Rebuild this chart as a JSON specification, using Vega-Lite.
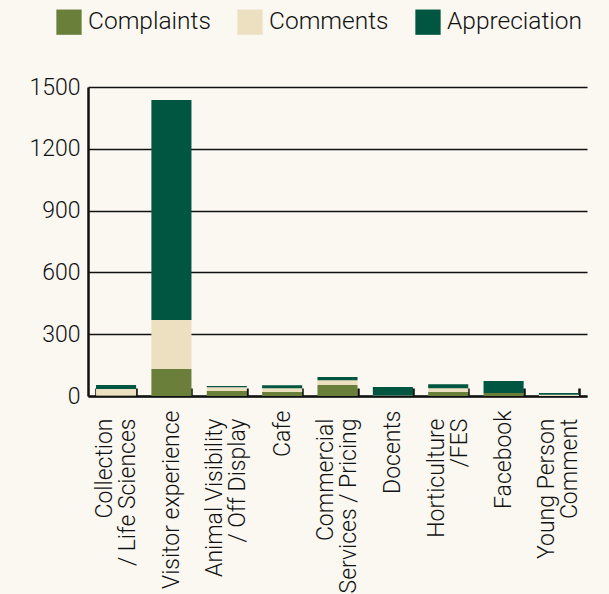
{
  "$schema": "https://vega.github.io/schema/vega-lite/v6.json",
  "width": 499,
  "height": 309,
  "autosize": {"type": "none"},
  "padding": {"left": 88, "top": 87, "right": 22, "bottom": 198},
  "background": "#faf8f1",
  "config": {
    "view": {"stroke": null},
    "font": "Roboto",
    "axis": {"labelFont": "Roboto", "labelFontWeight": 300, "labelColor": "#111111"},
    "legend": {"labelFont": "Roboto", "labelFontWeight": 300}
  },
  "data": {
    "values": [
      {"cat": "Collection|/ Life Sciences", "type": "Complaints", "value": 2},
      {"cat": "Collection|/ Life Sciences", "type": "Comments", "value": 32},
      {"cat": "Collection|/ Life Sciences", "type": "Appreciation", "value": 20},
      {"cat": "Visitor experience", "type": "Complaints", "value": 131},
      {"cat": "Visitor experience", "type": "Comments", "value": 238},
      {"cat": "Visitor experience", "type": "Appreciation", "value": 1068},
      {"cat": "Animal Visibility|/ Off Display", "type": "Complaints", "value": 24},
      {"cat": "Animal Visibility|/ Off Display", "type": "Comments", "value": 19},
      {"cat": "Animal Visibility|/ Off Display", "type": "Appreciation", "value": 5},
      {"cat": "Cafe", "type": "Complaints", "value": 19},
      {"cat": "Cafe", "type": "Comments", "value": 19},
      {"cat": "Cafe", "type": "Appreciation", "value": 14},
      {"cat": "Commercial|Services / Pricing", "type": "Complaints", "value": 53},
      {"cat": "Commercial|Services / Pricing", "type": "Comments", "value": 24},
      {"cat": "Commercial|Services / Pricing", "type": "Appreciation", "value": 15},
      {"cat": "Docents", "type": "Complaints", "value": 0},
      {"cat": "Docents", "type": "Comments", "value": 2},
      {"cat": "Docents", "type": "Appreciation", "value": 42},
      {"cat": "Horticulture|/FES", "type": "Complaints", "value": 19},
      {"cat": "Horticulture|/FES", "type": "Comments", "value": 19},
      {"cat": "Horticulture|/FES", "type": "Appreciation", "value": 19},
      {"cat": "Facebook", "type": "Complaints", "value": 15},
      {"cat": "Facebook", "type": "Comments", "value": 0},
      {"cat": "Facebook", "type": "Appreciation", "value": 58},
      {"cat": "Young Person|Comment", "type": "Complaints", "value": 0},
      {"cat": "Young Person|Comment", "type": "Comments", "value": 6},
      {"cat": "Young Person|Comment", "type": "Appreciation", "value": 9}
    ]
  },
  "resolve": {"axis": {"x": "independent"}},
  "layer": [
    {
      "mark": {"type": "bar"},
      "encoding": {
        "x": {
          "field": "cat",
          "type": "nominal",
          "sort": null,
          "title": null,
          "scale": {"paddingInner": 0.276, "paddingOuter": 0.145},
          "axis": {
            "orient": "bottom",
            "labelExpr": "indexof(datum.label, '|') >= 0 ? '' : datum.label",
            "labelAngle": -90,
            "labelAlign": "right",
            "labelBaseline": "middle",
            "labelFontSize": 23,
            "labelPadding": 22,
            "tickBand": "extent",
            "tickSize": -8,
            "tickWidth": 2.5,
            "tickColor": "#111111",
            "domainColor": "#111111",
            "domainWidth": 2.5,
            "labelLimit": 400
          }
        },
        "y": {
          "field": "value",
          "type": "quantitative",
          "aggregate": "sum",
          "stack": "zero",
          "title": null,
          "scale": {"domain": [0, 1500], "nice": false},
          "axis": {
            "values": [0, 300, 600, 900, 1200, 1500],
            "format": "d",
            "labelFontSize": 23,
            "labelPadding": 8,
            "ticks": false,
            "grid": true,
            "gridColor": "#111111",
            "gridWidth": 1.6,
            "domainColor": "#111111",
            "domainWidth": 2.5
          }
        },
        "color": {
          "field": "type",
          "type": "nominal",
          "scale": {
            "domain": ["Complaints", "Comments", "Appreciation"],
            "range": ["#6a803a", "#ede0c1", "#005640"]
          },
          "legend": {
            "title": null,
            "orient": "none",
            "direction": "horizontal",
            "legendX": -32,
            "legendY": -78,
            "symbolType": "square",
            "symbolSize": 640,
            "symbolStrokeWidth": 0,
            "labelFontSize": 24.5,
            "labelColor": "#111111",
            "labelOffset": 6,
            "columnPadding": 26,
            "labelLimit": 300
          }
        },
        "order": {"field": "type", "sort": "descending"}
      }
    },
    {
      "mark": {"type": "bar", "opacity": 0},
      "encoding": {
        "x": {
          "field": "cat",
          "type": "nominal",
          "sort": null,
          "title": null,
          "axis": {
            "orient": "bottom",
            "labelExpr": "indexof(datum.label, '|') >= 0 ? split(datum.label, '|') : ''",
            "labelAngle": -90,
            "labelAlign": "right",
            "labelBaseline": "middle",
            "labelFontSize": 23,
            "labelPadding": 22,
            "labelLineHeight": 23,
            "labelOffset": -11.5,
            "ticks": false,
            "domain": false,
            "labelLimit": 400
          }
        },
        "y": {
          "field": "value",
          "type": "quantitative",
          "aggregate": "sum",
          "stack": "zero"
        }
      }
    }
  ]
}
